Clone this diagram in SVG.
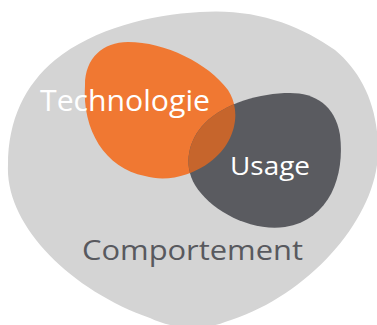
<svg xmlns="http://www.w3.org/2000/svg" width="377" height="325" viewBox="0 0 377 325">
<style>
.lbl{font-family:"Open Sans","Liberation Sans",sans-serif;font-weight:400}
.w{fill:#ffffff}
.d{fill:#58595e}
</style>
<defs>
<path id="dark" d="M 290,93 C 315,93 335,105 340,135 C 345,175 330,220 285,227 C 250,232 210,210 195,185 C 183,165 188,140 205,123 C 225,103 260,93 290,93 Z"/>
<clipPath id="darkClip"><use href="#dark"/></clipPath>
<path id="orange" d="M 85,85 C 85,58 103,42 128,42 C 165,42 208,63 228,90 C 243,113 234,145 210,162 C 190,177 165,182 145,176 C 105,168 82,130 85,85 Z"/>
</defs>
<g id="comportement">
<path fill="#d4d4d4" d="M 8,165 C 8,120 25,85 55,60 C 95,28 150,15 200,12 C 255,8 300,25 335,50 C 365,75 382,115 377,165 C 368,230 300,300 225,322 C 205,330 175,330 150,318 C 70,290 5,225 8,165 Z"/>
<text class="lbl d" x="82" y="260" font-size="28" textLength="221" lengthAdjust="spacingAndGlyphs">Comportement</text>
</g>
<g id="technologie">
<use href="#orange" fill="#f07832"/>
</g>
<g id="usage">
<use href="#dark" fill="#5a5b60"/>
<use href="#orange" fill="#c6652c" clip-path="url(#darkClip)"/>
<text class="lbl w" x="230" y="175" font-size="25" textLength="80" lengthAdjust="spacingAndGlyphs">Usage</text>
</g>
<g id="technologie-label">
<text class="lbl w" x="40" y="110.5" font-size="30" textLength="170" lengthAdjust="spacingAndGlyphs">Technologie</text>
</g>
<g id="connectors"/>
</svg>
